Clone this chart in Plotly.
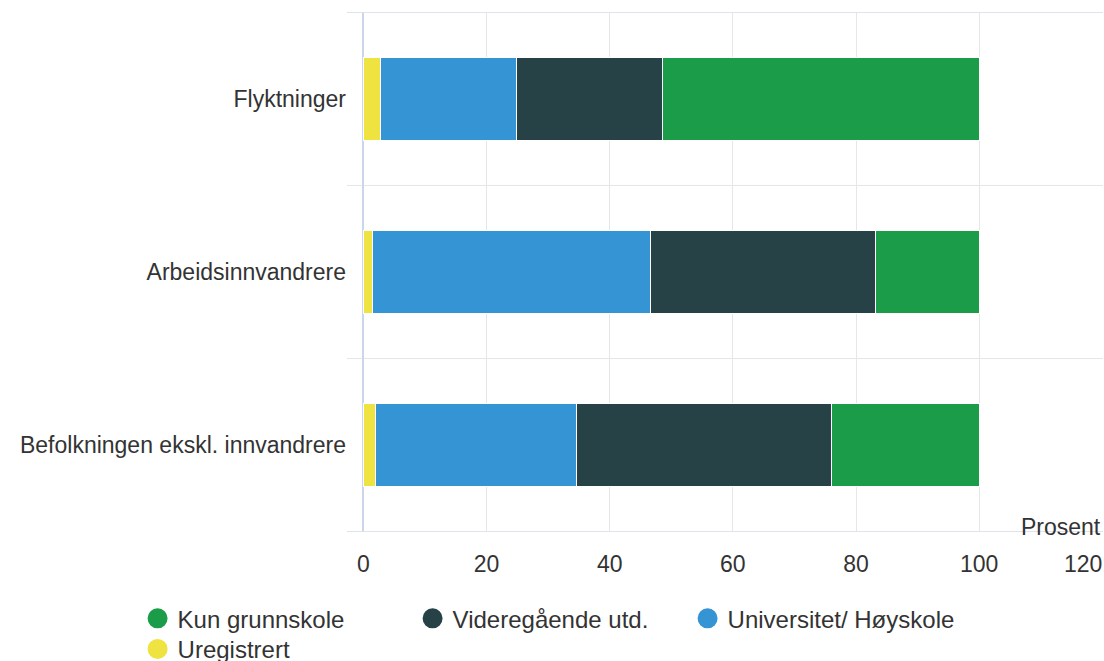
import plotly.graph_objects as go

# Utdanningsnivå etter innvandringsgrunn (prosent)
categories = ['Flyktninger', 'Arbeidsinnvandrere', 'Befolkningen ekskl. innvandrere']

uregistrert = [2.8, 1.5, 2.0]
universitet = [22.0, 45.1, 32.6]
videregaende = [23.8, 36.6, 41.4]
kun_grunnskole = [51.4, 16.8, 24.0]

x_ticks = [0, 20, 40, 60, 80, 100, 120]
# last label pushed left so it stays inside the page
x_ticktext = ['0', '20', '40', '60', '80', '100', '120' + '\u00a0' * 6]

FONT = 'Liberation Sans, Arial, sans-serif'
TEXT = '#333333'

colors = {
    'Uregistrert': '#efe342',
    'Universitet/ Høyskole': '#3594d3',
    'Videregående utd.': '#274247',
    'Kun grunnskole': '#1b9c49',
}

fig = go.Figure()

# stacked bars, left to right
series = [
    ('Uregistrert', uregistrert),
    ('Universitet/ Høyskole', universitet),
    ('Videregående utd.', videregaende),
    ('Kun grunnskole', kun_grunnskole),
]
for name, vals in series:
    fig.add_trace(go.Bar(
        x=vals,
        y=categories,
        orientation='h',
        name=name,
        marker=dict(color=colors[name], line=dict(color='white', width=1)),
        showlegend=False,
        hoverinfo='x+name',
    ))

# legend entries with round symbols
legend_items = [
    ('Kun grunnskole', 'legend'),
    ('Videregående utd.', 'legend'),
    ('Universitet/ Høyskole', 'legend'),
    ('Uregistrert', 'legend2'),
]
for name, leg in legend_items:
    fig.add_trace(go.Scatter(
        x=[None], y=[None],
        mode='markers',
        name=name,
        legend=leg,
        marker=dict(symbol='circle', size=16, color=colors[name],
                    line=dict(color=colors[name], width=4)),
    ))

legend_style = dict(
    orientation='h',
    xanchor='left',
    yanchor='top',
    traceorder='normal',
    font=dict(family=FONT, size=24, color=TEXT),
    entrywidth=230,
    entrywidthmode='pixels',
    bgcolor='rgba(0,0,0,0)',
    itemclick=False,
)

fig.update_layout(
    width=1104,
    height=661,
    barmode='stack',
    bargap=0.52,
    plot_bgcolor='white',
    paper_bgcolor='white',
    font=dict(family=FONT, size=23, color=TEXT),
    margin=dict(l=347, r=1, t=13, b=130, autoexpand=False),
    legend=dict(x=-0.277, y=-0.126, **legend_style),
    legend2=dict(x=-0.277, y=-0.185, **legend_style),
    xaxis=dict(
        range=[-2.65, 120.1],
        tickvals=x_ticks,
        ticktext=x_ticktext,
        ticklabeloverflow='allow',
        showgrid=True,
        gridcolor='#e6e6e6',
        gridwidth=1,
        zeroline=True,
        zerolinecolor='#ccd6eb',
        zerolinewidth=2,
        showline=True,
        linecolor='#dfe3ec',
        linewidth=1,
        mirror=True,
        ticks='outside',
        ticklen=12,
        tickcolor='rgba(0,0,0,0)',
        tickfont=dict(family=FONT, size=23, color=TEXT),
        fixedrange=True,
    ),
    yaxis=dict(
        categoryorder='array',
        categoryarray=categories,
        autorange='reversed',
        tickson='boundaries',
        showgrid=True,
        gridcolor='#e6e6e6',
        gridwidth=1,
        ticks='outside',
        ticklen=6,
        tickcolor='rgba(0,0,0,0)',
        tickfont=dict(family=FONT, size=23, color=TEXT),
        fixedrange=True,
    ),
)

fig.add_annotation(
    text='Prosent',
    xref='paper', yref='paper',
    x=1, y=0,
    xanchor='right', yanchor='middle',
    yshift=4,
    showarrow=False,
    font=dict(family=FONT, size=23, color=TEXT),
)

# page has a default 8px body margin; drop it so the figure fills the window
fig.write_html(
    'out.html',
    config={'displayModeBar': False},
    post_script="document.body.style.margin='0';",
)
